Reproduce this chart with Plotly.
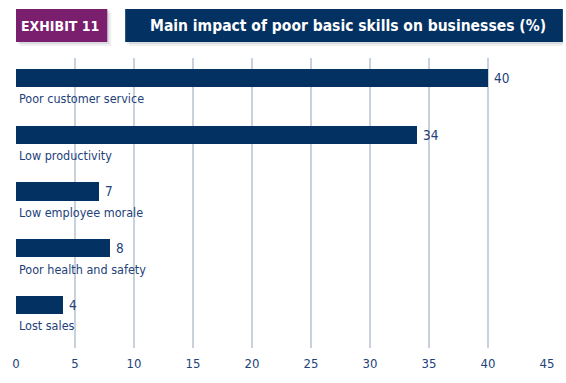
import plotly.graph_objects as go

categories = ["Poor customer service", "Low productivity", "Low employee morale",
              "Poor health and safety", "Lost sales"]
values = [40, 34, 7, 8, 4]
x_ticks = [0, 5, 10, 15, 20, 25, 30, 35, 40, 45]

NAVY = "#033162"
TEXT = "#23427a"
PURPLE = "#7a1e6e"
GRID = "#c9d1dd"
FONT = "DejaVu Sans Condensed, Arial Narrow, sans-serif"

pos = list(range(len(categories)))

W, H = 566, 383
L, R, T, B = 15, 16, 58, 35
pw, ph = W - L - R, H - T - B


def px_x(x):
    return (x - L) / pw


def px_y(y):
    return 1 - (y - T) / ph


fig = go.Figure()
fig.add_trace(go.Bar(
    x=values, y=pos, orientation="h", width=0.32,
    marker=dict(color=NAVY, line=dict(width=0)),
    hoverinfo="skip",
))

annotations = []
for i, (c, v) in enumerate(zip(categories, values)):
    annotations.append(dict(x=0, y=i + 0.2, xref="x", yref="y", text=c,
                            showarrow=False, xanchor="left", yanchor="top",
                            xshift=1, font=dict(family=FONT, size=12.5, color=TEXT)))
    annotations.append(dict(x=v, y=i, xref="x", yref="y", text=str(v),
                            showarrow=False, xanchor="left", yanchor="middle",
                            xshift=4, font=dict(family=FONT, size=13.5, color=TEXT)))

shapes = []
# soft shadows under the header boxes
for off, op in [(4, 0.08), (2, 0.12)]:
    shapes.append(dict(type="rect", xref="paper", yref="paper",
                       x0=px_x(15 + off), x1=px_x(107 + off),
                       y0=px_y(42 + off), y1=px_y(9 + off),
                       fillcolor="rgba(60,70,90,%s)" % op, line=dict(width=0), layer="below"))
    shapes.append(dict(type="rect", xref="paper", yref="paper",
                       x0=px_x(125 + off), x1=px_x(566),
                       y0=px_y(42 + off), y1=px_y(9 + off),
                       fillcolor="rgba(60,70,90,%s)" % op, line=dict(width=0), layer="below"))
shapes.append(dict(type="rect", xref="paper", yref="paper",
                   x0=px_x(15), x1=px_x(107), y0=px_y(42), y1=px_y(9),
                   fillcolor=PURPLE, line=dict(width=0)))
shapes.append(dict(type="rect", xref="paper", yref="paper",
                   x0=px_x(125), x1=px_x(566), y0=px_y(42), y1=px_y(9),
                   fillcolor=NAVY, line=dict(width=0)))

annotations.append(dict(x=px_x(59), y=px_y(25.5), xref="paper", yref="paper",
                        text="<b>EXHIBIT 11</b>", showarrow=False,
                        xanchor="center", yanchor="middle",
                        font=dict(family=FONT, size=14, color="white")))
annotations.append(dict(x=px_x(349), y=px_y(25.5), xref="paper", yref="paper",
                        text="<b>Main impact of poor basic skills on businesses (%)</b>",
                        showarrow=False, xanchor="center", yanchor="middle",
                        font=dict(family=FONT, size=15.5, color="white")))

fig.update_layout(
    width=W, height=H,
    margin=dict(l=L, r=R, t=T, b=B, pad=0),
    paper_bgcolor="white", plot_bgcolor="white",
    showlegend=False,
    shapes=shapes,
    annotations=annotations,
    xaxis=dict(range=[0, 45], tickvals=x_ticks, showgrid=True, gridcolor=GRID,
               gridwidth=1.5, zeroline=False, showline=False, ticks="",
               ticklabelstandoff=6,
               tickfont=dict(family=FONT, size=13, color=TEXT), fixedrange=True),
    yaxis=dict(range=[4.758, -0.352], showgrid=False, zeroline=False,
               showticklabels=False, showline=False, fixedrange=True),
    bargap=0,
)

fig.write_html("out.html")
